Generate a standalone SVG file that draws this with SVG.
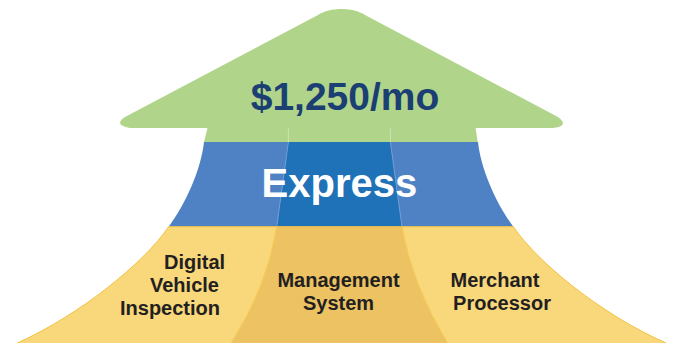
<svg xmlns="http://www.w3.org/2000/svg" width="678" height="345" viewBox="0 0 678 345">
<style>
.lbl{font-family:"Liberation Sans",Arial,sans-serif;font-weight:bold;font-size:20px;fill:#231F20}
.div{fill:none;stroke-width:1}
</style>
<rect width="678" height="345" fill="#FFFFFF"/>
<g id="price">
<path d="M204,142 L207.5,128 L130,128 Q113,125 125,117 L318,15 C330,7 353,7 365,15 L558,117 Q570,126 553,128 L475.6,128 L477.7,142 Z" fill="#B0D58A"/>
<path class="div" d="M288.4,128 V142 M390.4,128 V142" stroke="#CBE4B2"/>
<text x="345" y="110" text-anchor="middle" font-family="'Liberation Sans',Arial,sans-serif" font-weight="bold" font-size="39" fill="#1B3F73">$1,250/mo</text>
</g>
<g id="express">
<path d="M204,142 L288.4,142 L276.7,226.7 L168.6,226.7 C185,205 201,170 204,142 Z" fill="#4F82C4"/>
<path d="M478,142 L390.4,142 L402,226.7 L513.4,226.7 C497,205 481,170 478,142 Z" fill="#4F82C4"/>
<path d="M288.4,142 L390.4,142 L402,226.7 L276.7,226.7 Z" fill="#1F71B8"/>
<path class="div" d="M288.4,142 L276.7,226.7 M390.4,142 L402,226.7" stroke="#6F9BD0" stroke-width="0.8"/>
<text x="339.4" y="197" text-anchor="middle" font-family="'Liberation Sans',Arial,sans-serif" font-weight="bold" font-size="40" fill="#FFFFFF">Express</text>
</g>
<g id="dvi">
<path d="M168.6,226.7 L276.7,226.7 Q268,285 231.3,343 L17.3,343 C80,315 145,262 168.6,226.7 Z" fill="#F9D77B"/>
<text class="lbl" x="164" y="269">Digital</text>
<text class="lbl" x="150" y="292">Vehicle</text>
<text class="lbl" x="120" y="315">Inspection</text>
</g>
<g id="mgmt">
<path d="M276.7,226.7 L402,226.7 Q412,285 447.5,343 L231.3,343 Q268,285 276.7,226.7 Z" fill="#ECC263"/>
<text class="lbl" x="338.5" y="286.5" text-anchor="middle">Management</text>
<text class="lbl" x="338.5" y="310" text-anchor="middle">System</text>
</g>
<g id="merchant">
<path d="M402,226.7 L513.4,226.7 C537,262 602,315 666,343 L447.5,343 Q412,285 402,226.7 Z" fill="#F9D77B"/>
<text class="lbl" x="495" y="286.5" text-anchor="middle">Merchant</text>
<text class="lbl" x="502" y="310" text-anchor="middle">Processor</text>
</g>
<g id="connectors">
<path class="div" d="M276.7,226.7 Q268,285 231.3,343 M402,226.7 Q412,285 447.5,343" stroke="#F5C84A" stroke-width="1.5"/>
<path class="div" d="M17.3,343 C80,315 145,262 168.6,226.7 L513.4,226.7 C537,262 602,315 666,343" stroke="#F3C240" stroke-width="2"/>
</g>
</svg>
